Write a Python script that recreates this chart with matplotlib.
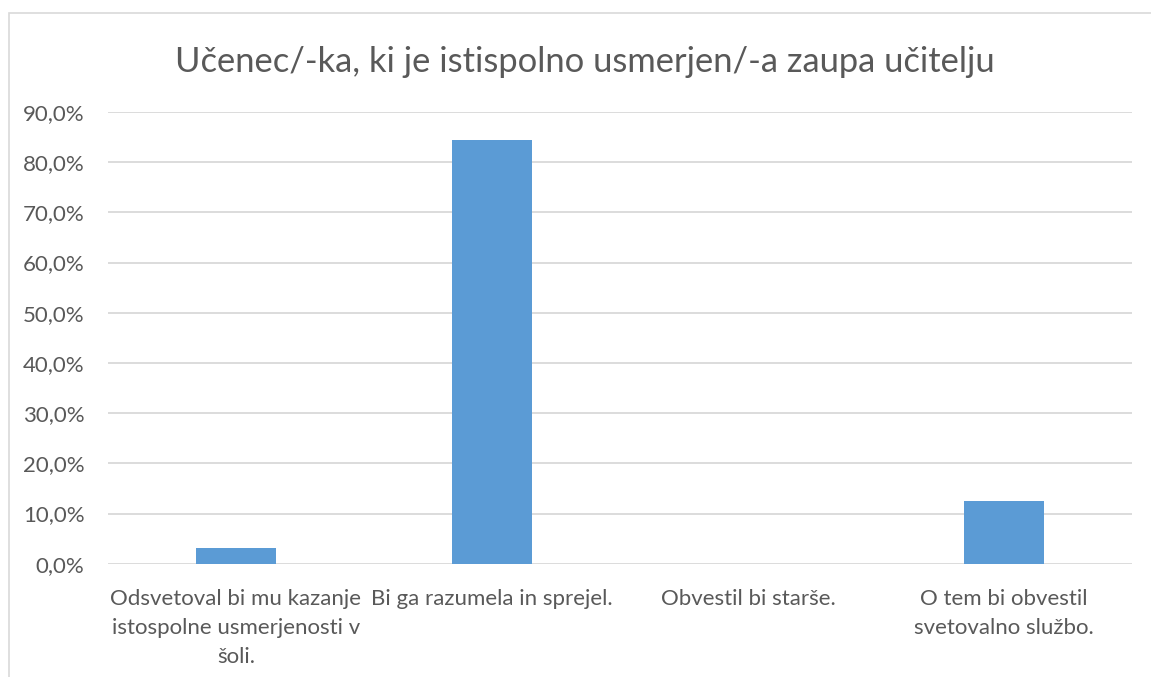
import matplotlib
matplotlib.use("Agg")
import matplotlib.pyplot as plt
from matplotlib.patches import Rectangle
from matplotlib.ticker import FuncFormatter

title = "Učenec/-ka, ki je istispolno usmerjen/-a zaupa učitelju"
categories = [
    "Odsvetoval bi mu kazanje\nistospolne usmerjenosti v\nšoli.",
    "Bi ga razumela in sprejel.",
    "Obvestil bi starše.",
    "O tem bi obvestil\nsvetovalno službo.",
]
values = [3.1, 84.4, 0.0, 12.5]
yticks = [0, 10, 20, 30, 40, 50, 60, 70, 80, 90]

W, H = 1151, 677
fig = plt.figure(figsize=(W / 100, H / 100), dpi=100)
plt.rcParams['font.family'] = ['Lato', 'DejaVu Sans']
txt = '#595959'
grid = '#D9D9D9'

# chart border
fig.patches.append(Rectangle((8.5 / W, -0.1), 1.2, (H - 12.5) / H + 0.1,
                             transform=fig.transFigure, fill=False,
                             edgecolor='#D9D9D9', lw=1.2))

ax = fig.add_axes([108 / W, (H - 563.7) / H, 1024 / W, (563.7 - 112) / H])
x = list(range(len(categories)))
ax.bar(x, values, width=0.3125, color='#5B9BD5', zorder=3)
ax.set_xlim(-0.5, len(categories) - 0.5)
ax.set_ylim(0, 90)
ax.set_yticks(yticks)
ax.yaxis.set_major_formatter(FuncFormatter(lambda v, p: f"{v:.1f}%".replace('.', ',')))
ax.grid(axis='y', color=grid, lw=1.3, zorder=0)
for s in ax.spines.values():
    s.set_visible(False)
ax.tick_params(axis='both', length=0, colors=txt, labelsize=16)
ax.tick_params(axis='y', pad=17)
ax.tick_params(axis='x', pad=18)
ax.set_xticks(x)
ax.set_xticklabels(categories, linespacing=1.58)
for lab in ax.get_xticklabels():
    lab.set_ha('center')
fig.text(585 / W, 1 - 62 / H, title, ha='center', va='center', fontsize=24.8, color=txt)
fig.savefig('out.png', dpi=100)
